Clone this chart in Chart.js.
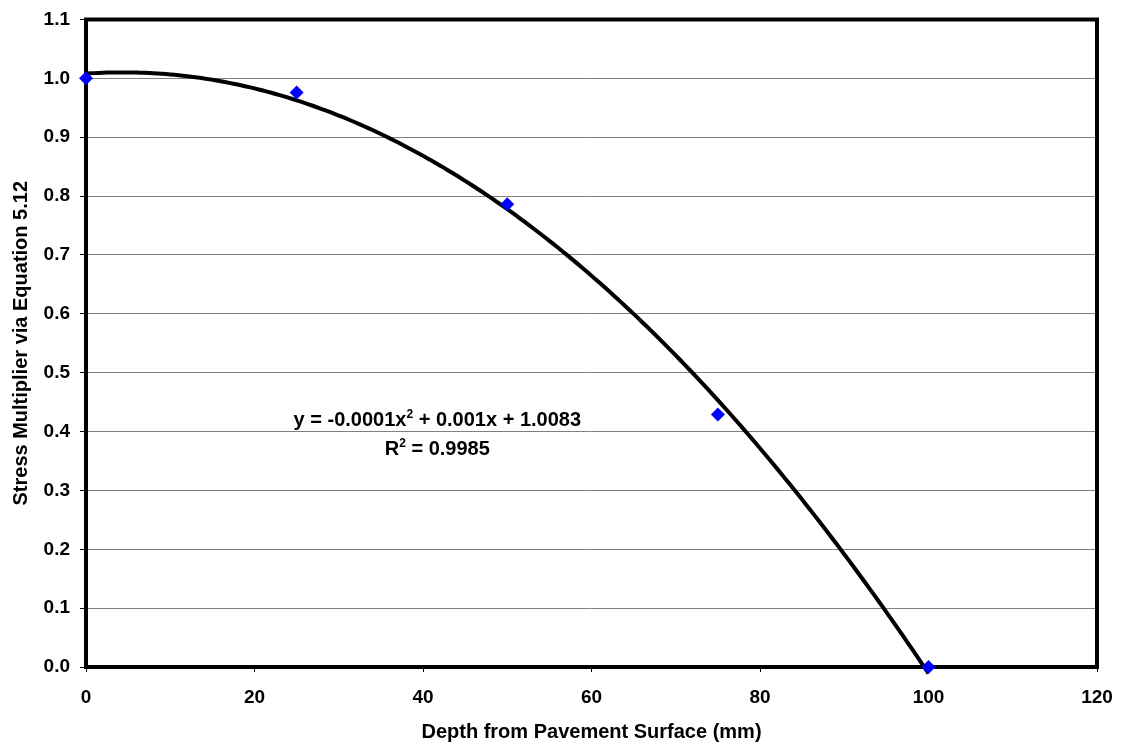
<!DOCTYPE html>
<html lang="en">

<head>
  <meta charset="UTF-8" />
  <title>Stress Multiplier vs Depth</title>
  <script src="https://cdn.jsdelivr.net/npm/chart.js"></script>
  <style>
    body { margin: 0; background: #fff; }
    #wrap { width: 1125px; height: 747px; }
  </style>
</head>

<body>
  <div id="wrap">
    <canvas id="stressChart" width="1125" height="747"></canvas>
  </div>
  <script>
    // measured points
    const depths = [0, 25, 50, 75, 100];
    const multipliers = [1.0, 0.976, 0.786, 0.429, 0.0];

    // axis ticks
    const xTicks = [0, 20, 40, 60, 80, 100, 120];
    const yTicks = [0, 0.1, 0.2, 0.3, 0.4, 0.5, 0.6, 0.7, 0.8, 0.9, 1.0, 1.1];

    // trendline label lines (sup = superscript)
    const eqLine = [{ t: 'y = -0.0001x' }, { t: '2', sup: true }, { t: ' + 0.001x + 1.0083' }];
    const r2Line = [{ t: 'R' }, { t: '2', sup: true }, { t: ' = 0.9985' }];

    const FONT = '"Liberation Sans", Arial, sans-serif';

    // least squares fit of a 2nd order polynomial, returns [a, b, c] for a + bx + cx^2
    function polyFit2(xs, ys) {
      let s = [0, 0, 0, 0, 0], t = [0, 0, 0];
      for (let i = 0; i < xs.length; i++) {
        let p = 1;
        for (let k = 0; k < 5; k++) { s[k] += p; if (k < 3) t[k] += p * ys[i]; p *= xs[i]; }
      }
      const m = [[s[0], s[1], s[2], t[0]], [s[1], s[2], s[3], t[1]], [s[2], s[3], s[4], t[2]]];
      for (let i = 0; i < 3; i++) {
        for (let j = i + 1; j < 3; j++) {
          const f = m[j][i] / m[i][i];
          for (let k = i; k < 4; k++) m[j][k] -= f * m[i][k];
        }
      }
      const r = [0, 0, 0];
      for (let i = 2; i >= 0; i--) {
        let v = m[i][3];
        for (let k = i + 1; k < 3; k++) v -= m[i][k] * r[k];
        r[i] = v / m[i][i];
      }
      return r;
    }

    const coef = polyFit2(depths, multipliers);
    const trend = [];
    for (let x = depths[0]; x <= depths[depths.length - 1]; x += 0.5) {
      trend.push({ x: x, y: coef[0] + coef[1] * x + coef[2] * x * x });
    }

    // thick black frame round the plot area
    const frame = {
      id: 'frame',
      beforeDatasetsDraw(chart) {
        const { ctx, chartArea: a } = chart;
        ctx.save();
        ctx.strokeStyle = '#000';
        ctx.lineWidth = 4;
        ctx.strokeRect(a.left, a.top, a.right - a.left, a.bottom - a.top);
        ctx.restore();
      }
    };

    function drawRich(ctx, parts, cx, y) {
      const big = 'bold 20px ' + FONT, small = 'bold 12px ' + FONT;
      let w = 0;
      parts.forEach(p => { ctx.font = p.sup ? small : big; w += ctx.measureText(p.t).width; });
      let x = cx - w / 2;
      parts.forEach(p => {
        ctx.font = p.sup ? small : big;
        ctx.fillText(p.t, x, p.sup ? y - 8 : y);
        x += ctx.measureText(p.t).width;
      });
    }

    // trendline equation and R squared
    const eqLabel = {
      id: 'eqLabel',
      afterDraw(chart) {
        const { ctx, scales: { x, y } } = chart;
        const cx = x.getPixelForValue(41.7);
        const by = y.getPixelForValue(0.41);
        ctx.save();
        ctx.fillStyle = '#000';
        ctx.textBaseline = 'alphabetic';
        drawRich(ctx, eqLine, cx, by);
        drawRich(ctx, r2Line, cx, by + 29);
        ctx.restore();
      }
    };

    const ctx = document.getElementById('stressChart').getContext('2d');
    new Chart(ctx, {
      type: 'scatter',
      data: {
        datasets: [
          {
            label: 'Stress multiplier',
            data: depths.map((d, i) => ({ x: d, y: multipliers[i] })),
            pointStyle: 'rectRot',
            pointRadius: 7,
            pointHoverRadius: 7,
            backgroundColor: '#0000ff',
            borderWidth: 0,
            clip: false
          },
          {
            label: 'Poly. trend',
            data: trend,
            showLine: true,
            borderColor: '#000',
            borderWidth: 4,
            pointRadius: 0,
            tension: 0,
            clip: false
          }
        ]
      },
      options: {
        responsive: false,
        animation: false,
        layout: { padding: { top: 18, right: 28, left: 0, bottom: 0 } },
        plugins: { legend: { display: false }, tooltip: { enabled: false } },
        scales: {
          x: {
            type: 'linear',
            min: 0,
            max: 120,
            afterBuildTicks: s => { s.ticks = xTicks.map(v => ({ value: v })); },
            afterFit: s => { s.height = 80; s.paddingLeft = 0; s.paddingRight = 0; },
            ticks: { color: '#000', font: { family: FONT, size: 19, weight: 'bold' }, padding: 14 },
            grid: { drawOnChartArea: false, drawTicks: true, tickLength: 5, tickColor: '#000' },
            border: { display: false },
            title: {
              display: true,
              text: 'Depth from Pavement Surface (mm)',
              color: '#000',
              font: { family: FONT, size: 20, weight: 'bold' },
              padding: { top: 0, bottom: 3 }
            }
          },
          y: {
            min: 0,
            max: 1.1,
            afterBuildTicks: s => { s.ticks = yTicks.map(v => ({ value: v })); },
            afterFit: s => { s.width = 86; },
            ticks: {
              color: '#000',
              font: { family: FONT, size: 19, weight: 'bold', lineHeight: 1 },
              padding: 10,
              callback: v => Number(v).toFixed(1)
            },
            grid: { color: '#808080', lineWidth: 1, drawTicks: true, tickLength: 6, tickColor: '#000' },
            border: { display: false },
            title: {
              display: true,
              text: 'Stress Multiplier via Equation 5.12',
              color: '#000',
              font: { family: FONT, size: 20, weight: 'bold' },
              padding: { top: 9, bottom: 0 }
            }
          }
        }
      },
      plugins: [frame, eqLabel]
    });
  </script>
</body>

</html>
